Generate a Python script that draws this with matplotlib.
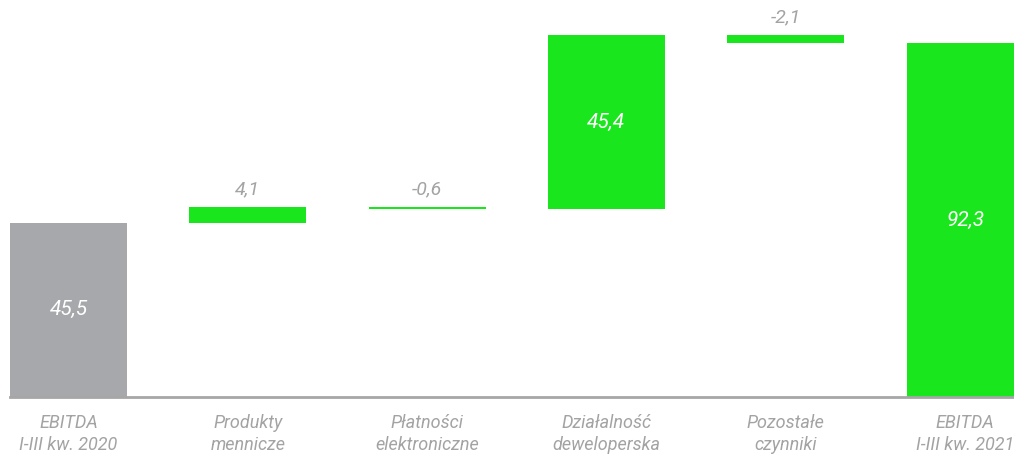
import numpy as np
import matplotlib.pyplot as plt

categories = ["EBITDA\nI-III kw. 2020", "Produkty\nmennicze", "Płatności\nelektroniczne",
              "Działalność\ndeweloperska", "Pozostałe\nczynniki", "EBITDA\nI-III kw. 2021"]
changes = [45.5, 4.1, -0.6, 45.4, -2.1]
total = 92.3
value_labels = ["45,5", "4,1", "-0,6", "45,4", "-2,1", "92,3"]

green = "#1ae61e"
grey_bar = "#a7a8ab"
grey_text = "#a3a3a3"

plt.rcParams['font.family'] = ['Roboto', 'DejaVu Sans']

fig = plt.figure(figsize=(10.14, 4.54), dpi=100)
ax = fig.add_axes([10 / 1014, 1 - 397 / 454, 1 - 10 / 1014, 397 / 454])

# waterfall: bottoms and heights
bottoms = []
heights = []
level = 0.0
for i, c in enumerate(changes):
    if i == 0:
        bottoms.append(0)
        heights.append(c)
    else:
        bottoms.append(min(level, level + c))
        heights.append(abs(c))
    level += c
bottoms.append(0)
heights.append(total)

x = np.arange(len(categories))
colors = [grey_bar] + [green] * (len(categories) - 1)
w = 0.653
ax.bar(x, heights, bottom=bottoms, width=w, color=colors, linewidth=0)

for i in range(len(categories)):
    if heights[i] > 10:
        ax.text(x[i], bottoms[i] + heights[i] / 2, value_labels[i], ha='center', va='center',
                color='white', fontsize=15, fontstyle='italic')
    else:
        ax.text(x[i], bottoms[i] + heights[i] + 2.3, value_labels[i], ha='center', va='bottom',
                color=grey_text, fontsize=14, fontstyle='italic')

ax.set_xlim(-w / 2, 5.273)
ax.set_ylim(0, 397 / 3.83)
ax.set_xticks(x)
ax.set_xticklabels(categories, fontsize=13, fontstyle='italic', color=grey_text, linespacing=1.3)
ax.tick_params(axis='x', length=0, pad=12)
ax.set_yticks([])
for s in ['top', 'right', 'left']:
    ax.spines[s].set_visible(False)
ax.spines['bottom'].set_color('#a6a6a6')
ax.spines['bottom'].set_linewidth(2)

plt.savefig("out.png", dpi=100)
